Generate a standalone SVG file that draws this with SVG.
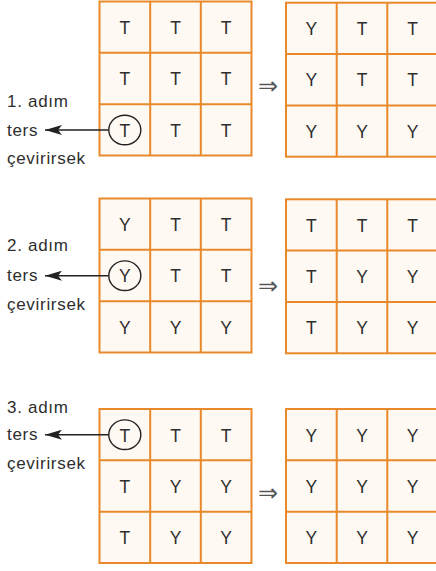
<svg xmlns="http://www.w3.org/2000/svg" width="436" height="571" viewBox="0 0 436 571">
<defs>
<style>
.bg{fill:#fef9f3;stroke:none}
.ln{stroke:#e8892b;stroke-width:2;fill:none}
.c{font-family:"Liberation Sans",Arial,sans-serif;font-size:17.5px;fill:#2e2e2e;text-anchor:middle}
.lb{font-family:"Liberation Sans",Arial,sans-serif;font-size:17px;letter-spacing:0.7px;fill:#2e2e2e}
.imp{font-family:"DejaVu Sans",sans-serif;font-size:24px;fill:#555;text-anchor:middle}
.ring{fill:none;stroke:#222;stroke-width:1.4}
.arr{stroke:#222;stroke-width:1.6;fill:none}
</style>
<marker id="ah" viewBox="0 0 17 10" refX="17" refY="5" markerWidth="17" markerHeight="10" markerUnits="userSpaceOnUse" orient="auto">
<path d="M17,5 L0,0 L4,5 L0,10 Z" fill="#222"/>
</marker>
<g id="grid">
<rect class="bg" x="0" y="0" width="152" height="154"/>
<rect class="ln" x="0" y="0" width="152" height="154"/>
<line class="ln" x1="50.7" y1="0" x2="50.7" y2="154"/>
<line class="ln" x1="101.3" y1="0" x2="101.3" y2="154"/>
<line class="ln" x1="0" y1="51.3" x2="152" y2="51.3"/>
<line class="ln" x1="0" y1="102.7" x2="152" y2="102.7"/>
</g>
</defs>

<g id="step1-left" transform="translate(99.5,1.5)">
<use href="#grid"/>
<text class="c" x="25.3" y="32.5">T</text><text class="c" x="76" y="32.5">T</text><text class="c" x="126.7" y="32.5">T</text>
<text class="c" x="25.3" y="83.8">T</text><text class="c" x="76" y="83.8">T</text><text class="c" x="126.7" y="83.8">T</text>
<text class="c" x="25.3" y="135.2">T</text><text class="c" x="76" y="135.2">T</text><text class="c" x="126.7" y="135.2">T</text>
<ellipse class="ring" cx="25.3" cy="128.5" rx="16" ry="14.8"/>
</g>
<g id="step1-right" transform="translate(286,2.7)">
<use href="#grid"/>
<text class="c" x="25.3" y="32.5">Y</text><text class="c" x="76" y="32.5">T</text><text class="c" x="126.7" y="32.5">T</text>
<text class="c" x="25.3" y="83.8">Y</text><text class="c" x="76" y="83.8">T</text><text class="c" x="126.7" y="83.8">T</text>
<text class="c" x="25.3" y="135.2">Y</text><text class="c" x="76" y="135.2">Y</text><text class="c" x="126.7" y="135.2">Y</text>
</g>
<g id="step1-label">
<text class="lb" x="7" y="106.7">1. adım</text>
<text class="lb" x="7" y="135.5">ters</text>
<text class="lb" x="7" y="164">çevirirsek</text>
</g>
<text id="imp1" class="imp" x="268" y="94">⇒</text>

<g id="step2-left" transform="translate(99.5,198.5)">
<use href="#grid"/>
<text class="c" x="25.3" y="32.5">Y</text><text class="c" x="76" y="32.5">T</text><text class="c" x="126.7" y="32.5">T</text>
<text class="c" x="25.3" y="83.8">Y</text><text class="c" x="76" y="83.8">T</text><text class="c" x="126.7" y="83.8">T</text>
<text class="c" x="25.3" y="135.2">Y</text><text class="c" x="76" y="135.2">Y</text><text class="c" x="126.7" y="135.2">Y</text>
<ellipse class="ring" cx="25.3" cy="77.2" rx="16" ry="14.8"/>
</g>
<g id="step2-right" transform="translate(286,199.3)">
<use href="#grid"/>
<text class="c" x="25.3" y="32.5">T</text><text class="c" x="76" y="32.5">T</text><text class="c" x="126.7" y="32.5">T</text>
<text class="c" x="25.3" y="83.8">T</text><text class="c" x="76" y="83.8">Y</text><text class="c" x="126.7" y="83.8">Y</text>
<text class="c" x="25.3" y="135.2">T</text><text class="c" x="76" y="135.2">Y</text><text class="c" x="126.7" y="135.2">Y</text>
</g>
<g id="step2-label">
<text class="lb" x="7" y="250.7">2. adım</text>
<text class="lb" x="7" y="280.7">ters</text>
<text class="lb" x="7" y="310">çevirirsek</text>
</g>
<text id="imp2" class="imp" x="268" y="294">⇒</text>

<g id="step3-left" transform="translate(99.5,409)">
<use href="#grid"/>
<text class="c" x="25.3" y="32.5">T</text><text class="c" x="76" y="32.5">T</text><text class="c" x="126.7" y="32.5">T</text>
<text class="c" x="25.3" y="83.8">T</text><text class="c" x="76" y="83.8">Y</text><text class="c" x="126.7" y="83.8">Y</text>
<text class="c" x="25.3" y="135.2">T</text><text class="c" x="76" y="135.2">Y</text><text class="c" x="126.7" y="135.2">Y</text>
<ellipse class="ring" cx="25.3" cy="25.7" rx="16" ry="14.8"/>
</g>
<g id="step3-right" transform="translate(286,409)">
<use href="#grid"/>
<text class="c" x="25.3" y="32.5">Y</text><text class="c" x="76" y="32.5">Y</text><text class="c" x="126.7" y="32.5">Y</text>
<text class="c" x="25.3" y="83.8">Y</text><text class="c" x="76" y="83.8">Y</text><text class="c" x="126.7" y="83.8">Y</text>
<text class="c" x="25.3" y="135.2">Y</text><text class="c" x="76" y="135.2">Y</text><text class="c" x="126.7" y="135.2">Y</text>
</g>
<g id="step3-label">
<text class="lb" x="7" y="412.7">3. adım</text>
<text class="lb" x="7" y="440">ters</text>
<text class="lb" x="7" y="469">çevirirsek</text>
</g>
<text id="imp3" class="imp" x="268" y="501">⇒</text>

<g id="connectors">
<line class="arr" x1="108.5" y1="130" x2="45" y2="130" marker-end="url(#ah)"/>
<line class="arr" x1="108.5" y1="275.7" x2="45" y2="275.7" marker-end="url(#ah)"/>
<line class="arr" x1="108.5" y1="434.7" x2="45" y2="434.7" marker-end="url(#ah)"/>
</g>
</svg>
